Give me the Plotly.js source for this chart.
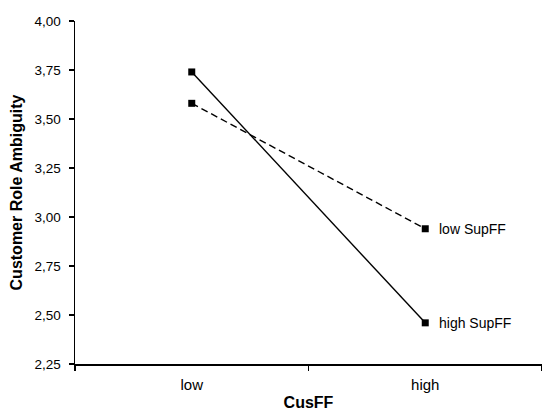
<!DOCTYPE html>
<html>
<head>
<meta charset="utf-8">
<script src="https://cdn.plot.ly/plotly-3.0.1.min.js"></script>
<style>html,body{margin:0;padding:0;background:#fff;}#chart{width:542px;height:412px;}</style>
</head>
<body>
<div id="chart"></div>
<script>
var categories = ["low", "high"];
var highSupFF = [3.74, 2.46];
var lowSupFF = [3.58, 2.94];
var seriesLabels = ["high SupFF", "low SupFF"];
var yTicks = [2.25, 2.50, 2.75, 3.00, 3.25, 3.50, 3.75, 4.00];

var font = "Liberation Sans, Arial, sans-serif";

var traces = [
  {x: categories, y: highSupFF, name: seriesLabels[0], type: "scatter", mode: "lines+markers",
   line: {color: "#000", width: 1.4}, marker: {symbol: "square", size: 7, color: "#000"}, cliponaxis: false},
  {x: categories, y: lowSupFF, name: seriesLabels[1], type: "scatter", mode: "lines+markers",
   line: {color: "#000", width: 1.4, dash: "7px,4px"}, marker: {symbol: "square", size: 7, color: "#000"}, cliponaxis: false}
];

var annotations = [
  {x: categories[1], y: highSupFF[1], text: seriesLabels[0]},
  {x: categories[1], y: lowSupFF[1], text: seriesLabels[1]}
].map(function(a){
  return {x: a.x, y: a.y, text: a.text, xref: "x", yref: "y", showarrow: false,
          xanchor: "left", yanchor: "middle", xshift: 12,
          font: {family: font, size: 14, color: "#000"}};
});

var layout = {
  width: 542, height: 412,
  margin: {l: 75, r: 0, t: 21, b: 48},
  paper_bgcolor: "#fff", plot_bgcolor: "#fff",
  showlegend: false,
  separators: ",.",
  font: {family: font, size: 14, color: "#000"},
  xaxis: {
    type: "category", range: [-0.5, 1.5], tickson: "boundaries",
    showline: true, linecolor: "#000", linewidth: 1.5,
    ticks: "outside", ticklen: 5, tickcolor: "#000", tickwidth: 1.2,
    ticklabelstandoff: 6,
    showgrid: false, zeroline: false,
    tickfont: {family: font, size: 15, color: "#000"},
    title: {text: "<b>CusFF</b>", font: {family: font, size: 16, color: "#000"}, standoff: 5}
  },
  yaxis: {
    range: [2.25, 4.00], tickvals: yTicks, tickformat: ".2f",
    showline: true, linecolor: "#000", linewidth: 1.5,
    ticks: "outside", ticklen: 5, tickcolor: "#000", tickwidth: 1.2,
    ticklabelstandoff: 5,
    showgrid: false, zeroline: false,
    tickfont: {family: font, size: 13.5, color: "#000"},
    title: {text: "<b>Customer Role Ambiguity</b>", font: {family: font, size: 16, color: "#000"}, standoff: 8}
  },
  annotations: annotations
};

Plotly.newPlot("chart", traces, layout, {displayModeBar: false, staticPlot: true});
</script>
</body>
</html>
